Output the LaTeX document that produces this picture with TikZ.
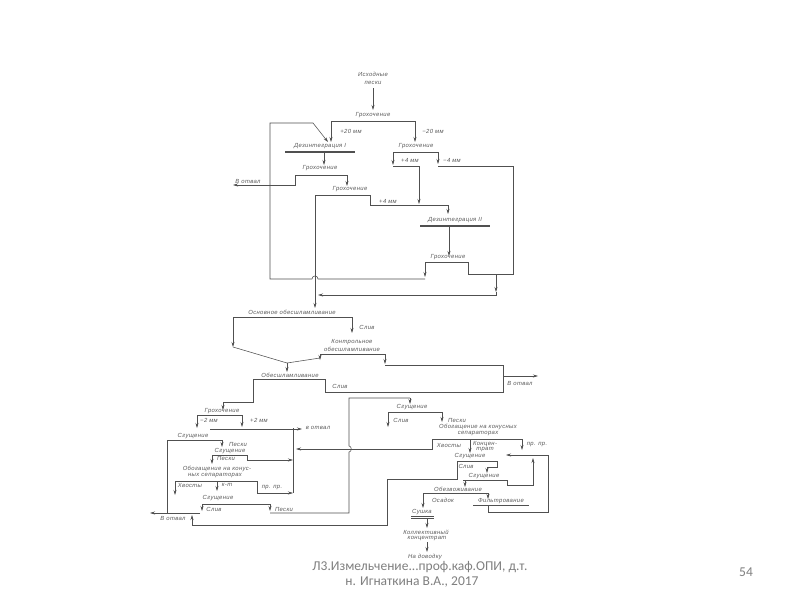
\documentclass[tikz,border=0pt]{standalone}
\usepackage{fontspec}
\setmainfont{Liberation Sans}
\newfontfamily\lblfont[LetterSpace=6]{Liberation Sans}
\newfontfamily\footfont{Carlito}
\usetikzlibrary{arrows.meta}
\definecolor{ink}{HTML}{505050}
\definecolor{txt}{HTML}{5A5A5A}
\definecolor{foot}{HTML}{7F7F7F}
\tikzset{
 lbl/.style={font=\lblfont\fontsize{5.9}{6.5}\selectfont\itshape, text=txt, inner sep=0pt, align=center},
 ln/.style={draw=ink, line width=0.55pt},
 bar/.style={draw=ink, line width=1.0pt},
 arr/.style={ln, -{Stealth[length=5pt,width=3pt]}},
 ftxt/.style={font=\footfont\fontsize{13.5}{16}\selectfont, text=foot, inner sep=0pt, align=center}
}
\begin{document}
\begin{tikzpicture}[x=1pt,y=-1pt]
\useasboundingbox (0,0) rectangle (800,600);
\fill[white] (0,0) rectangle (800,600);

% ---------- top section ----------
\node[lbl] (ish1) at (373,74) {Исходные};
\node[lbl] (ish2) at (373,83) {пески};
\draw[arr] (373,88) -- (373,110);
\node[lbl] (gr1) at (373,115) {Грохочение};
\draw[bar] (331,121) -- (415,121);
\draw[arr] (331,121) -- (331,142);
\node[lbl] (p20) at (351,131) {+20 мм};
\draw[arr] (415,121) -- (415,142);
\node[lbl] (m20) at (433,131) {−20 мм};

\node[lbl] (dez1) at (320,146) {Дезинтеграция I};
\draw[ln] (285,151) -- (355,151);
\draw[ln] (285,152.6) -- (355,152.6);
\draw[arr] (324,153) -- (324,165);

\node[lbl] (gr2) at (320,168) {Грохочение};
\draw[bar] (295,175) -- (347,175);
\draw[arr] (295,175) -- (295,185) -- (233,185);
\node[lbl] (otv1) at (248,181) {В отвал};
\draw[arr] (347,175) -- (347,186);

\node[lbl] (gr3) at (350,189) {Грохочение};
\draw[bar] (315,195) -- (370,195);
\draw[arr] (370,195) -- (370,205) -- (448,205) -- (448,214);
\node[lbl] (p4a) at (388,201) {+4 мм};

\node[lbl] (gr4) at (416,146) {Грохочение};
\draw[bar] (393,152) -- (438,152);
\draw[arr] (393,152) -- (393,165);
\node[lbl] (p4b) at (410,160) {+4 мм};
\draw[arr] (393,166) -- (419,166) -- (419,204);
\draw[arr] (438,152) -- (438,164);
\draw[ln] (438,166) -- (513,166) -- (513,274) -- (468,274) -- (468,262);
\node[lbl] (m4) at (452,160) {−4 мм};

\node[lbl] (dez2) at (455,220) {Дезинтеграция II};
\draw[ln] (420,225) -- (490,225);
\draw[ln] (420,226.6) -- (490,226.6);
\draw[arr] (449,227) -- (449,256);

\node[lbl] (gr5) at (448,257) {Грохочение};
\draw[bar] (425,262) -- (468,262);
\draw[arr] (425,262) -- (425,277);

% return loop to disintegration I
\draw[ln] (425,279) -- (318,279) .. controls (318,275) and (312,275) .. (312,279) -- (270,279) -- (270,123) -- (313,123);
\draw[arr] (313,123) -- (328,142);

% undersize to desliming
\draw[arr] (496,274) -- (496,292);
\draw[arr] (496,292) -- (496,295) -- (318,295);
\draw[arr] (315,195) -- (315,308);

% ---------- desliming ----------
\node[lbl] (obs1) at (292,312) {Основное обесшламливание};
\draw[bar] (233,317) -- (352,317);
\draw[arr] (233,317) -- (233,347);
\draw[ln] (233,347) -- (287,363);
\draw[arr] (352,317) -- (352,333);
\node[lbl] (sl1) at (367,327) {Слив};

\node[lbl] (kon1) at (352,342) {Контрольное};
\node[lbl] (kon2) at (352,349) {обесшламливание};
\draw[bar] (320,354) -- (385,354);
\draw[arr] (320,354) -- (320,360);
\draw[ln] (320,358) -- (287,363);
\draw[arr] (287,363) -- (287,372);
\draw[arr] (385,354) -- (385,364);
\draw[ln] (385,365) -- (503,365) -- (503,392) -- (325,392) -- (325,379);
\draw[arr] (503,376) -- (538,376);
\node[lbl] (otv2) at (520,383) {В отвал};

\node[lbl] (obs2) at (290,375) {Обесшламливание};
\draw[bar] (253,379) -- (325,379);
\node[lbl] (sl2) at (340,386) {Слив};

% ---------- lower left ----------
\draw[arr] (253,379) -- (253,402) -- (223,402) -- (223,410);
\node[lbl] (gr6) at (222,411) {Грохочение};
\draw[bar] (197,415) -- (242,415);
\draw[arr] (197,415) -- (197,428);
\node[lbl] (m2) at (209,420) {−2 мм};
\draw[arr] (242,415) -- (242,427);
\node[lbl] (p2) at (259,420) {+2 мм};
\draw[arr] (210,429) -- (302,429);
\node[lbl] (otv3) at (318,428) {в отвал};

\node[lbl] (sg1) at (193,436) {Сгущение};
\draw[bar] (167,440) -- (222,440);
\draw[ln] (167,440) -- (167,513);
\draw[arr] (222,440) -- (222,447);
\node[lbl] (pes1) at (238,444) {Пески};

\node[lbl] (sg2) at (230,451) {Сгущение};
\draw[bar] (212,455) -- (247,455);
\draw[arr] (212,455) -- (212,464);
\node[lbl] (pes2) at (226,458) {Пески};
\draw[arr] (247,455) -- (247,460) -- (293,460);

\node[lbl] (ob1) at (217,469) {Обогащение на конус-};
\node[lbl] (ob2) at (215,476) {ных сепараторах};
\draw[bar] (175,481) -- (257,481);
\draw[arr] (175,481) -- (175,495);
\node[lbl] (hv1) at (190,485) {Хвосты};
\draw[arr] (217,481) -- (217,491);
\node[lbl] (kt1) at (227,485) {к-т};
\draw[arr] (257,481) -- (257,493) -- (293,493);
\node[lbl] (pp1) at (272,488) {пр. пр.};
\draw[ln] (293,428) -- (293,493);

\node[lbl] (sg3) at (218,498) {Сгущение};
\draw[bar] (202,504) -- (270,504);
\draw[arr] (202,504) -- (202,511);
\node[lbl] (sl3) at (214,509) {Слив};
\draw[arr] (270,504) -- (270,511);
\node[lbl] (pes3) at (284,509) {Пески};
\draw[ln] (270,513) -- (349,513) -- (349,452) .. controls (352,452) and (352,446) .. (349,446) -- (349,398) -- (410,398);
\draw[arr] (410,398) -- (410,404);

\draw[arr] (200,513) -- (150,513);
\node[lbl] (otv4) at (173,518) {В отвал};
\draw[ln] (457,461) -- (457,479) -- (387,479) -- (387,525) -- (192,525);
\draw[arr] (192,525) -- (192,515);

% ---------- lower right ----------
\node[lbl] (sg4) at (412,407) {Сгущение};
\draw[bar] (388,412) -- (442,412);
\draw[arr] (388,412) -- (388,427);
\node[lbl] (sl4) at (401,420) {Слив};
\draw[arr] (442,412) -- (442,422);
\node[lbl] (pes4) at (457,420) {Пески};

\node[lbl] (ob3) at (478,427) {Обогащение на конусных};
\node[lbl] (ob4) at (478,434) {сепараторах};
\draw[bar] (432,439) -- (522,439);
\draw[arr] (432,439) -- (432,449) -- (296,449);
\node[lbl] (hv2) at (449,445) {Хвосты};
\draw[arr] (470,439) -- (470,453);
\node[lbl] (kc1) at (485,444) {Концен-};
\node[lbl] (kc2) at (485,450) {трат};
\draw[arr] (522,439) -- (522,450);
\node[lbl] (pp2) at (537,445) {пр. пр.};

\node[lbl] (sg5) at (470,456) {Сгущение};
\draw[bar] (457,461) -- (497,461);
\node[lbl] (sl5) at (466,466) {Слив};
\draw[arr] (497,461) -- (497,467) -- (487,467) -- (487,473);

\node[lbl] (sg6) at (484,476) {Сгущение};
\draw[bar] (463,480) -- (507,480);
\draw[arr] (507,480) -- (507,485) -- (533,485) -- (533,458);
\draw[arr] (465,480) -- (465,487);

\node[lbl] (obz) at (458,489) {Обезвоживание};
\draw[bar] (423,493) -- (488,493);
\draw[arr] (423,493) -- (423,508);
\node[lbl] (osad) at (443,500) {Осадок};
\draw[arr] (488,493) -- (488,499);
\node[lbl] (filt) at (501,501) {Фильтрование};
\draw[ln] (473,505) -- (529,505);
\draw[arr] (488,506) -- (488,512) -- (548,512) -- (548,455) -- (506,455);

\node[lbl] (sush) at (422,512) {Сушка};
\draw[ln] (411,516.5) -- (434,516.5);
\draw[ln] (411,518) -- (434,518);
\draw[arr] (427,518) -- (427,528);
\node[lbl] (kk1) at (426,532) {Коллективный};
\node[lbl] (kk2) at (427,539) {концентрат};
\draw[arr] (427,542) -- (427,552);
\node[lbl] (dov) at (425,557) {На доводку};

% ---------- footer ----------
\node[ftxt] (f1) at (420,567) {Л3.Измельчение...проф.каф.ОПИ, д.т.};
\node[ftxt] (f2) at (412,582) {н. Игнаткина В.А., 2017};
\node[ftxt] (f3) at (746,572) {54};
\end{tikzpicture}
\end{document}
